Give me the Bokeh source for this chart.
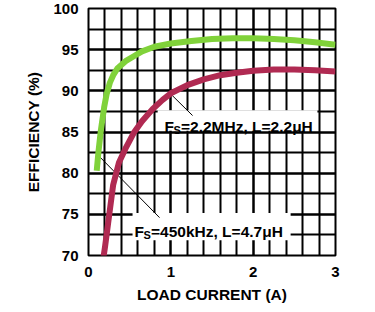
from bokeh.plotting import figure
from bokeh.models import Range1d, SingleIntervalTicker, Label
from bokeh.embed import file_html
from bokeh.resources import INLINE

# Data
load_2mhz = [0.10, 0.12, 0.15, 0.19, 0.22, 0.26, 0.30, 0.35, 0.45, 0.55, 0.65, 0.80,
             1.00, 1.25, 1.50, 1.75, 2.00, 2.25, 2.50, 2.75, 3.00]
eff_2mhz = [80.3, 82.5, 85.2, 88.0, 89.6, 91.0, 91.9, 92.7, 93.6, 94.2, 94.8, 95.35,
            95.75, 96.05, 96.3, 96.4, 96.4, 96.3, 96.15, 95.9, 95.6]

load_450k = [0.17, 0.20, 0.25, 0.30, 0.37, 0.45, 0.55, 0.65, 0.78, 0.90, 1.00, 1.20,
             1.40, 1.60, 1.80, 2.00, 2.25, 2.50, 2.75, 3.00]
eff_450k = [69.0, 71.0, 74.8, 78.6, 81.3, 83.0, 84.9, 86.3, 87.8, 88.9, 89.7, 90.7,
            91.4, 91.9, 92.2, 92.45, 92.6, 92.6, 92.5, 92.35]

label_2mhz = ["F", "S", "=2.2MHz, L=2.2\u03bcH"]
label_450k = ["F", "S", "=450kHz, L=4.7\u03bcH"]

GREEN = "#80d23a"
RED = "#b02a52"
FONT = "Liberation Sans"

p = figure(width=375, height=312, output_backend="svg", toolbar_location=None,
           x_range=Range1d(0, 3), y_range=Range1d(70, 100),
           min_border_left=88, min_border_right=40, min_border_top=8, min_border_bottom=57)
p.outline_line_color = "black"
p.outline_line_width = 2

p.xaxis.ticker = SingleIntervalTicker(interval=1, num_minor_ticks=5)
p.yaxis.ticker = SingleIntervalTicker(interval=5, num_minor_ticks=2)
for ax in (p.xaxis, p.yaxis):
    ax.axis_line_color = None
    ax.major_tick_line_color = None
    ax.minor_tick_line_color = None
    ax.major_label_text_font = FONT
    ax.major_label_text_font_style = "bold"
    ax.major_label_text_font_size = "15px"
    ax.major_label_text_color = "black"
    ax.axis_label_text_font = FONT
    ax.axis_label_text_font_style = "bold"
    ax.axis_label_text_font_size = "15.5px"
    ax.axis_label_text_color = "black"
p.xaxis.axis_label = "LOAD CURRENT (A)"
p.yaxis.axis_label = "EFFICIENCY (%)"
p.xaxis.major_label_standoff = 5
p.yaxis.major_label_standoff = 4
p.xaxis.axis_label_standoff = 6
p.yaxis.axis_label_standoff = 8

p.xgrid.ticker = p.xaxis[0].ticker
p.ygrid.ticker = p.yaxis[0].ticker
p.xgrid.grid_line_color = "black"
p.ygrid.grid_line_color = "black"
p.xgrid.grid_line_width = 2
p.ygrid.grid_line_width = 2
p.xgrid.grid_line_alpha = 1.0
p.ygrid.grid_line_alpha = 1.0
p.xgrid.minor_grid_line_color = "black"
p.ygrid.minor_grid_line_color = "black"
p.xgrid.minor_grid_line_width = 2
p.ygrid.minor_grid_line_width = 2

# white label boxes (cover grid behind annotation text)
p.quad(left=[0.84, 0.535], right=[2.78, 2.455], bottom=[85.15, 71.85], top=[87.65, 75.16],
       fill_color="white", line_color=None)

# leader lines
p.segment(x0=[0.97, 0.12], y0=[89.9, 82.15], x1=[1.264, 0.863], y1=[87.0, 74.6],
          line_color="black", line_width=1)

p.line(load_450k, eff_450k, line_color=RED, line_width=6, line_join="round", line_cap="butt")
p.line(load_2mhz, eff_2mhz, line_color=GREEN, line_width=6, line_join="round", line_cap="butt")


def add_label(x, y, parts):
    p.add_layout(Label(x=x, y=y, text=parts[0], text_font=FONT, text_font_style="bold",
                       text_font_size="15.5px", text_baseline="alphabetic", text_color="black"))
    p.add_layout(Label(x=x, y=y, x_offset=9, y_offset=-4, text=parts[1], text_font=FONT,
                       text_font_style="bold", text_font_size="11px",
                       text_baseline="alphabetic", text_color="black"))
    p.add_layout(Label(x=x, y=y, x_offset=16.5, text=parts[2], text_font=FONT,
                       text_font_style="bold", text_font_size="15.5px",
                       text_baseline="alphabetic", text_color="black"))


add_label(0.923, 85.67, label_2mhz)
add_label(0.559, 72.95, label_450k)

open("out.html", "w").write(file_html(p, INLINE))
